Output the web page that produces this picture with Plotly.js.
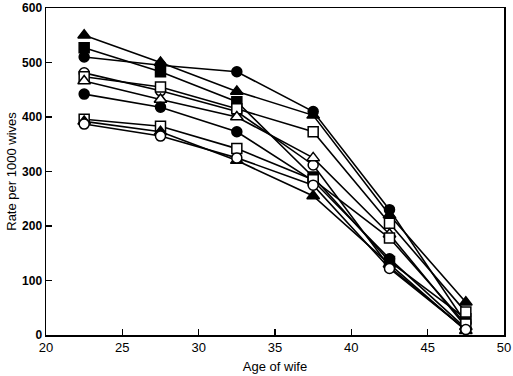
<!DOCTYPE html>
<html>
<head>
<meta charset="utf-8">
<script src="https://cdn.plot.ly/plotly-3.0.1.min.js"></script>
<style>html,body{margin:0;padding:0;background:#fff;}#chart{width:513px;height:376px;}</style>
</head>
<body>
<div id="chart"></div>
<script>
const ages = [22.5, 27.5, 32.5, 37.5, 42.5, 47.5];

const s1 = [550, 500, 447, 403, 220, 60];   // filled triangle
const s2 = [527, 483, 428, 290, 135, 30];   // filled square
const s3 = [510, 495, 483, 410, 230, 22];   // filled circle
const s4 = [481, 448, 410, 312, 125, 10];   // open circle
const s5 = [474, 455, 415, 373, 205, 42];   // open square
const s6 = [466, 432, 400, 325, 185, 15];   // open triangle
const s7 = [442, 418, 373, 283, 140, 12];   // filled circle
const s8 = [396, 383, 342, 285, 178, 20];   // open square
const s9 = [392, 373, 320, 255, 130, 8];    // filled triangle
const s10 = [387, 365, 325, 275, 122, 10];  // open circle

const seriesList = [
  {y: s1, sym: 'triangle-up', filled: true},
  {y: s2, sym: 'square', filled: true},
  {y: s3, sym: 'circle', filled: true},
  {y: s4, sym: 'circle', filled: false},
  {y: s5, sym: 'square', filled: false},
  {y: s6, sym: 'triangle-up', filled: false},
  {y: s7, sym: 'circle', filled: true},
  {y: s8, sym: 'square', filled: false},
  {y: s9, sym: 'triangle-up', filled: true},
  {y: s10, sym: 'circle', filled: false}
];

const traces = seriesList.map(s => ({
  x: ages, y: s.y, type: 'scatter', mode: 'lines+markers',
  line: {color: '#000', width: 1.6},
  marker: {symbol: s.sym, size: s.sym === 'triangle-up' ? 11 : 10,
           color: s.filled ? '#000' : '#fff',
           line: {color: '#000', width: 1.5}},
  showlegend: false, cliponaxis: false
}));

const layout = {
  width: 513, height: 376,
  margin: {l: 46, r: 9, t: 8, b: 41},
  paper_bgcolor: '#fff', plot_bgcolor: '#fff',
  font: {family: 'Liberation Sans, Arial, sans-serif', color: '#000', size: 12},
  xaxis: {
    range: [20, 50], tickvals: [20, 25, 30, 35, 40, 45, 50],
    ticks: 'inside', ticklen: 6, tickwidth: 1.5, tickcolor: '#000',
    showline: true, linecolor: '#000', linewidth: 1.5, mirror: true,
    showgrid: false, zeroline: false, ticklabeloverflow: 'allow',
    tickfont: {size: 13, color: '#000'},
    title: {text: 'Age of wife', font: {size: 13, color: '#000'}, standoff: 8}
  },
  yaxis: {
    range: [0, 600], tickvals: [0, 100, 200, 300, 400, 500, 600],
    ticks: 'inside', ticklen: 6, tickwidth: 1.5, tickcolor: '#000',
    showline: true, linecolor: '#000', linewidth: 1.5, mirror: true,
    showgrid: false, zeroline: false, ticklabeloverflow: 'allow',
    tickfont: {size: 12, color: '#000', weight: 'bold'},
    title: {text: 'Rate per 1000 wives', font: {size: 13, color: '#000'}, standoff: 2}
  }
};

Plotly.newPlot('chart', traces, layout, {staticPlot: true, displayModeBar: false});
</script>
</body>
</html>
